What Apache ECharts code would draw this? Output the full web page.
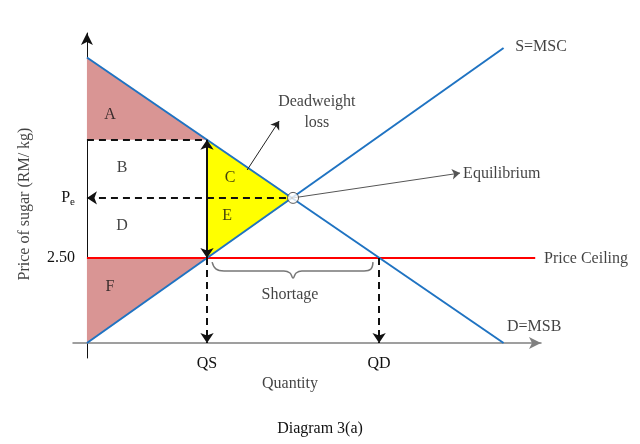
<!DOCTYPE html>
<html>
<head>
<meta charset="utf-8">
<script src="https://cdn.jsdelivr.net/npm/echarts@6/dist/echarts.min.js"></script>
<style>
  html, body { margin: 0; background: #fff; }
  #chart { width: 640px; height: 444px; }
</style>
</head>
<body>
<div id="chart"></div>
<script>
  // quantity / price units of the sketch
  const QS = 3.53, QD = 8.59, PE = 4.27, QE = 6.06, CEIL = 2.5, PMAX = 5.98;
  const demand = [[0, 8.4], [12.25, 0]];
  const supply = [[0, 0], [12.25, 8.68]];
  const ceiling = [[0, CEIL], [13.18, CEIL]];
  const equilibrium = [[QE, PE]];
  const areaA = [[0, 8.4], [QS, PMAX], [0, PMAX]];
  const areaF = [[0, CEIL], [QS, CEIL], [0, 0]];
  const areaCE = [[QS, PMAX], [QS, CEIL], [QE, PE]];
  const brace = [[3.68, 2.38], [3.79, 2.18], [4.03, 2.12], [5.79, 2.12], [5.97, 2.06], [6.06, 1.91],
                 [6.15, 2.06], [6.32, 2.12], [8.15, 2.12], [8.35, 2.18], [8.41, 2.38]];
  const yTicks = [CEIL, PE];
  const xTicks = [QS, QD];
  // [x, y, text, align]
  const labels = [
    [0.68, 6.71, 'A', 'center'], [1.03, 5.15, 'B', 'center'], [4.21, 4.85, 'C', 'center'],
    [1.03, 3.44, 'D', 'center'], [4.12, 3.74, 'E', 'center'], [0.68, 1.65, 'F', 'center'],
    [6.76, 6.78, 'Deadweight\nloss', 'center'], [11.06, 4.97, 'Equilibrium', 'left'],
    [12.59, 8.71, 'S=MSC', 'left'], [12.35, 0.47, 'D=MSB', 'left'],
    [13.44, 2.47, 'Price Ceiling', 'left'], [5.97, 1.41, 'Shortage', 'center'],
    [5.97, -1.21, 'Quantity', 'center']
  ];
  const yTitle = [-1.82, 4.09, 'Price of sugar (RM/ kg)'];

  const font = '"Liberation Serif", "Times New Roman", serif';
  const myChart = echarts.init(document.getElementById('chart'));

  function polygon(name, pts, color) {
    return {
      type: 'custom', name, data: pts, silent: true, z: 1,
      renderItem(params, api) {
        if (params.dataIndex !== 0) return;
        return {
          type: 'polygon',
          shape: { points: pts.map(p => api.coord(p)) },
          style: { fill: color }
        };
      }
    };
  }

  const dash = { color: '#111', type: [7, 5], width: 2 };
  const thin = { color: '#222', type: 'solid', width: 1 };

  const option = {
    animation: false,
    title: {
      text: 'Diagram 3(a)', left: 'center', top: 416,
      textStyle: { fontFamily: font, fontSize: 16, fontWeight: 'normal', color: '#111' }
    },
    grid: { left: 73, right: 99, top: 33, bottom: 86 },
    xAxis: {
      type: 'value', min: -0.41, max: 13.35,
      axisLine: { onZero: true, symbol: ['none', 'arrow'], symbolSize: [9, 12],
                  lineStyle: { color: '#808080', width: 1.5 } },
      axisTick: { show: false }, splitLine: { show: false },
      axisLabel: {
        customValues: xTicks, margin: -2, color: '#111', fontFamily: font, fontSize: 16,
        formatter: v => (v === QS ? 'QS' : 'QD')
      }
    },
    yAxis: {
      type: 'value', min: -0.44, max: 9.12,
      axisLine: { onZero: true, symbol: ['none', 'arrow'], symbolSize: [9, 12],
                  lineStyle: { color: '#111', width: 1 } },
      axisTick: { show: false }, splitLine: { show: false },
      axisLabel: {
        customValues: yTicks, margin: -2, color: '#111', fontFamily: font, fontSize: 16,
        formatter: v => (v === CEIL ? '2.50' : '{p|P}{s|e}'),
        rich: {
          p: { fontFamily: font, fontSize: 16, color: '#111' },
          s: { fontFamily: font, fontSize: 11, color: '#111', padding: [8, 0, 0, 0] }
        }
      }
    },
    series: [
      polygon('A', areaA, '#d99594'),
      polygon('F', areaF, '#d99594'),
      polygon('CE', areaCE, '#ffff00'),
      {
        type: 'line', data: ceiling, symbol: 'none', z: 3,
        lineStyle: { color: '#ff0000', width: 2 }
      },
      {
        type: 'line', data: demand, symbol: 'none', z: 4,
        lineStyle: { color: '#1f73c2', width: 2 },
        markLine: {
          silent: true, symbolSize: 10, label: { show: false }, lineStyle: dash,
          data: [
            [{ coord: [0, PMAX], symbol: 'none' }, { coord: [QS, PMAX], symbol: 'none' }],
            [{ coord: [0, PE], symbol: 'arrow' }, { coord: [QE, PE], symbol: 'none' }],
            [{ coord: [QS, CEIL], symbol: 'none' }, { coord: [QS, 0], symbol: 'arrow' }],
            [{ coord: [QD, CEIL], symbol: 'none' }, { coord: [QD, 0], symbol: 'arrow' }],
            [{ coord: [QS, PMAX], symbol: 'arrow' }, { coord: [QS, CEIL], symbol: 'arrow',
              lineStyle: { color: '#111', type: 'solid', width: 2 } }]
          ]
        }
      },
      {
        type: 'line', data: supply, symbol: 'none', z: 4,
        lineStyle: { color: '#1f73c2', width: 2 },
        markLine: {
          silent: true, symbolSize: 8, label: { show: false }, lineStyle: thin,
          data: [
            [{ coord: [4.71, 5.09], symbol: 'none' }, { coord: [5.65, 6.53], symbol: 'arrow' }],
            [{ coord: [QE, PE], symbol: 'none', lineStyle: { color: '#555', width: 1 } },
             { coord: [10.97, 5.0], symbol: 'arrow' }]
          ]
        }
      },
      {
        type: 'line', data: brace, symbol: 'none', smooth: 0.4, z: 3,
        lineStyle: { color: '#777', width: 1.5 }
      },
      {
        type: 'scatter', data: equilibrium, symbol: 'circle', symbolSize: 11, z: 6,
        itemStyle: { color: '#fff', borderColor: '#333', borderWidth: 1 }
      },
      {
        type: 'scatter', clip: false, symbolSize: 0, silent: true, z: 7,
        data: labels.map(l => ({
          value: [l[0], l[1]],
          label: { show: true, position: 'inside', formatter: l[2], align: l[3] }
        })),
        label: { fontFamily: font, fontSize: 16, color: '#111', lineHeight: 21 }
      },
      {
        type: 'scatter', clip: false, symbolSize: 0, silent: true,
        data: [{ value: [yTitle[0], yTitle[1]],
                 label: { show: true, position: 'inside', formatter: yTitle[2], rotate: 90 } }],
        label: { fontFamily: font, fontSize: 16, color: '#111' }
      }
    ]
  };
  myChart.setOption(option);
</script>
</body>
</html>
